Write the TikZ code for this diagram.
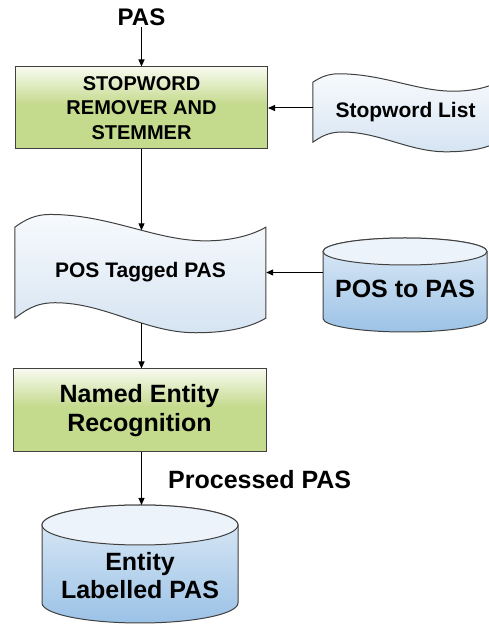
\documentclass[tikz,border=0pt]{standalone}
\usepackage{fontspec}
\setmainfont{Liberation Sans}
\usetikzlibrary{arrows.meta,calc,intersections}
\pgfdeclarelayer{bg}
\pgfsetlayers{bg,main}
\definecolor{gB}{RGB}{196,218,140}
\definecolor{gT}{RGB}{248,250,240}
\definecolor{bT}{RGB}{224,236,247}
\definecolor{bB}{RGB}{155,194,230}
\definecolor{bE}{RGB}{236,243,250}
\definecolor{tT}{RGB}{247,250,253}
\definecolor{tB}{RGB}{214,228,242}
\definecolor{edge}{RGB}{64,64,64}
\pgfdeclareverticalshading{greenfill}{100bp}{color(0bp)=(gB); color(25bp)=(gB); color(52bp)=(gB); color(75bp)=(gT); color(100bp)=(gT)}
\newcommand\tapeshape{(0,1) .. controls (0.04,1.08) and (0.08,1.14) .. (0.14,1.14) .. controls (0.38,1.14) and (0.56,0.85) .. (0.76,0.85) .. controls (0.87,0.85) and (0.95,0.92) .. (1,1) -- (1,0) .. controls (0.95,-0.08) and (0.87,-0.16) .. (0.72,-0.16) .. controls (0.52,-0.16) and (0.36,0.17) .. (0.16,0.17) .. controls (0.08,0.17) and (0.04,0.08) .. (0,0) -- cycle}
\newcommand\drawcyl[5]{%
  \path[cylbody] ($(#1.center)+(-#4,#2)$) -- ($(#1.center)+(-#4,#3)$)
     arc[start angle=180,end angle=360,x radius=#4,y radius=#5]
     -- ($(#1.center)+(#4,#2)$)
     arc[start angle=0,end angle=180,x radius=#4,y radius=#5] -- cycle;
  \path[cyltop] ($(#1.center)+(0,#2)$) ellipse[x radius=#4,y radius=#5];
}
\begin{document}
\begin{tikzpicture}[x=1pt,y=1pt,
  arr/.style={-{Triangle[length=7pt,width=6pt]}, line width=1pt, black},
  procbox/.style={draw=edge, line width=1pt, shading=greenfill, align=center, inner sep=0pt},
  txt/.style={inner sep=0pt, align=center},
  fa/.style={font=\bfseries\fontsize{20}{24.5}\selectfont},
  fb/.style={font=\bfseries\fontsize{21}{25}\selectfont},
  fc/.style={font=\bfseries\fontsize{24}{28}\selectfont},
  fd/.style={font=\bfseries\fontsize{25}{29}\selectfont},
  tapefill/.style={draw=edge, line width=1pt, top color=tT, bottom color=tB},
  cylbody/.style={draw=edge, line width=1pt, top color=bT, bottom color=bB},
  cyltop/.style={draw=edge, line width=1pt, fill=bE}]
\useasboundingbox (0,0) rectangle (488,624);
\clip (0,0) rectangle (488,624);

% nodes
\node[txt, fc, inner sep=1pt] (pas) at (141.5,607) {PAS};
\node[procbox, fa, minimum width=252pt, minimum height=82pt] (stem) at (141.5,516) {STOPWORD\\REMOVER AND\\STEMMER};
\node[txt, fb, minimum width=185pt, minimum height=60pt] (stop) at (405.5,512) {Stopword List};
\node[txt, fb, minimum width=251pt, minimum height=91pt] (postag) at (140.5,351.5) {POS Tagged PAS};
\node[txt, fd, minimum width=164pt] (p2p) at (405,335) {POS to PAS};
\node[procbox, fd, minimum width=253pt, minimum height=83pt] (ner) at (139.5,213.5) {Named Entity\\Recognition};
\node[txt, minimum width=196pt, font=\bfseries\fontsize{25}{28}\selectfont] (ent) at (140,48) {Entity\\Labelled PAS};
\node[txt, fd, anchor=west] (proc) at (168,144) {Processed PAS};
\coordinate (enttop) at ($(ent.center)+(0,71)$);
\coordinate (ax) at (141.5,0);

% shapes behind
\begin{pgfonlayer}{bg}
  \begin{scope}[shift={(stop.south west)}, x=185pt, y=60pt]
    \path[tapefill] \tapeshape;
  \end{scope}
  \begin{scope}[shift={(postag.south west)}, x=251pt, y=91pt]
    \path[tapefill, name path global=tp] \tapeshape;
  \end{scope}
  \drawcyl{p2p}{37.5}{-29.5}{82}{13.5}
  \drawcyl{ent}{51}{-27}{98}{20}
\end{pgfonlayer}

\path[name path=vl] (stem.south) -- ++(0,-200);
\path[name intersections={of=tp and vl, sort by=vl, by={ptop,pbot}}];

% connectors
\draw[arr] (pas.south) -- (pas.south |- stem.north);
\draw[arr] (stop.west |- stem.east) -- (stem.east);
\draw[arr] (stem.south) -- (stem.south |- ptop);
\draw[arr] (p2p.west |- postag.east) -- (postag.east);
\draw[arr] (pbot -| ax) -- (ner.north -| ax);
\draw[arr] (ner.south -| ax) -- (enttop -| ax);
\end{tikzpicture}
\end{document}
